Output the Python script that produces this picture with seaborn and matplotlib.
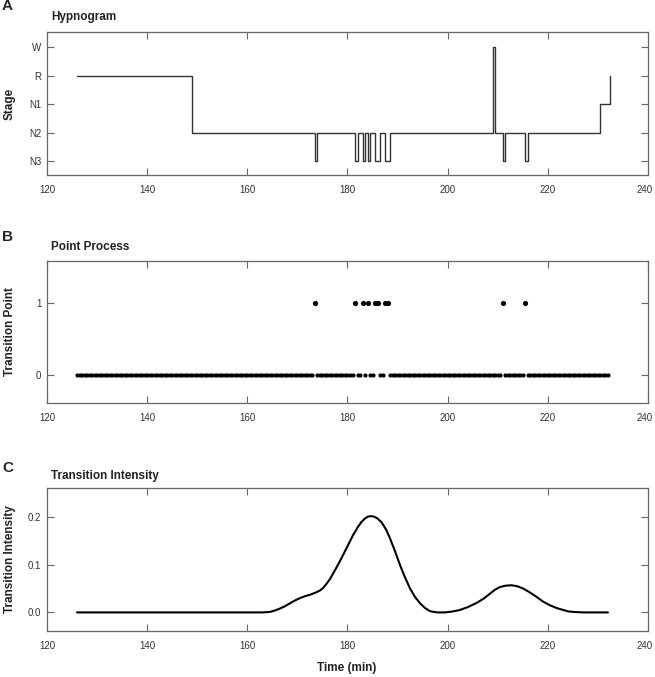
import numpy as np
import pandas as pd
import matplotlib
matplotlib.use("Agg")
import matplotlib.pyplot as plt
import matplotlib.transforms as mtransforms
import seaborn as sns

# datos
stage_labels = ["N3", "N2", "N1", "R", "W"]   # 0..4 de abajo hacia arriba

# hipnograma: instante de cambio (min) y estadio desde ese instante
hyp_time = [126.0, 149.0, 173.5, 174.0, 181.5, 182.0, 183.0, 183.5, 184.0, 184.5,
            185.5, 186.5, 187.5, 188.5, 209.0, 209.5, 211.0, 211.5, 215.5, 216.0,
            230.5, 232.5]
hyp_stage = ["R", "N2", "N3", "N2", "N3", "N2", "N3", "N2", "N3", "N2",
             "N3", "N2", "N3", "N2", "W", "N2", "N3", "N2", "N3", "N2",
             "N1", "R"]

# proceso puntual: epocas de 30 s y epocas con transicion
epoch_start = 126.0
epoch_end = 232.0
transition_times = [173.5, 181.5, 183.0, 184.0, 185.5, 186.0, 187.5, 188.0, 211.0, 215.5]

# intensidad de transicion (leida punto a punto)
int_time = [126, 160, 163, 164.5, 165.5, 166.5, 167.5, 168.5, 169.5, 170.5, 171.5,
            172.5, 173.5, 174.5, 175.2, 175.8, 176.5, 177.1, 178.1, 179.1, 180.1,
            181.1, 182.0, 182.8, 183.5, 184.1, 184.7, 185.3, 186.0, 186.8, 187.7,
            188.5, 189.5, 190.5, 191.5, 192.5, 193.5, 194.5, 195.5, 196.4, 197.2,
            198, 199.5, 201, 202.4, 204, 205.8, 207.2, 208.4, 209.5, 210.4, 211.5,
            212.7, 213.9, 215.1, 216.4, 217.7, 219.0, 220.4, 221.8, 223.1, 224.1,
            225.1, 227, 232]
int_value = [0, 0, 0, 0.001, 0.004, 0.008, 0.013, 0.019, 0.025, 0.030, 0.034,
             0.037, 0.041, 0.046, 0.052, 0.060, 0.070, 0.081, 0.100, 0.120, 0.141,
             0.162, 0.178, 0.190, 0.197, 0.201, 0.202, 0.201, 0.197, 0.189, 0.174,
             0.155, 0.128, 0.099, 0.073, 0.050, 0.032, 0.019, 0.009, 0.003, 0.001,
             0.0, 0.0, 0.002, 0.005, 0.011, 0.020, 0.029, 0.039, 0.048, 0.053, 0.056,
             0.057, 0.055, 0.050, 0.042, 0.033, 0.023, 0.015, 0.009, 0.005, 0.002,
             0.001, 0, 0]

sns.set_style("ticks")
fuente = ["Liberation Sans Narrow", "Liberation Sans", "DejaVu Sans"]
plt.rcParams["font.family"] = fuente
plt.rcParams["axes.edgecolor"] = "#666666"
plt.rcParams["axes.linewidth"] = 0.9

W, H = 655, 677
fig = plt.figure(figsize=(W / 100, H / 100), dpi=100)


def panel(top, bottom):
    ax = fig.add_axes([47 / W, 1 - bottom / H, 601 / W, (bottom - top) / H])
    ax.set_xlim(120, 240)
    ax.set_xticks([120, 140, 160, 180, 200, 220, 240])
    ax.tick_params(direction="in", top=True, right=True, length=5, width=0.8,
                   color="#666666", labelcolor="#333333", labelsize=7)
    ax.tick_params(axis="x", pad=7)
    ax.tick_params(axis="y", pad=4)
    for s in ax.spines.values():
        s.set_visible(True)
    return ax


def ajustar_240(ax):
    # la etiqueta 240 queda pegada al borde: se corre un poco a la izquierda
    lab = ax.get_xticklabels()[-1]
    lab.set_transform(lab.get_transform() +
                      mtransforms.ScaledTranslation(-3 / 100, 0, fig.dpi_scale_trans))


# A - hipnograma
df_hyp = pd.DataFrame({"t": hyp_time, "y": [stage_labels.index(s) for s in hyp_stage]})
ax1 = panel(32, 175)
sns.lineplot(data=df_hyp, x="t", y="y", ax=ax1, color="#333333", lw=1.0,
             drawstyle="steps-post", estimator=None, sort=False)
ax1.set_ylim(-0.48, 4.53)
ax1.set_yticks(range(5))
ax1.set_yticklabels(stage_labels)
ax1.set_xlabel("")
ax1.set_ylabel("")

# B - proceso puntual
epochs = np.arange(epoch_start, epoch_end + 0.25, 0.5)
marca = np.isin(epochs, transition_times)
df_pp = pd.DataFrame({"t": epochs, "y": marca.astype(int)})
ax2 = panel(261, 403)
sns.scatterplot(data=df_pp[df_pp.y == 0], x="t", y="y", ax=ax2, color="black",
                s=9, linewidth=0)
sns.scatterplot(data=df_pp[df_pp.y == 1], x="t", y="y", ax=ax2, color="black",
                s=14, linewidth=0)
ax2.set_ylim(-0.39, 1.59)
ax2.set_yticks([0, 1])
ax2.set_xlabel("")
ax2.set_ylabel("")

# C - intensidad
df_int = pd.DataFrame({"t": int_time, "v": int_value})
ax3 = panel(488, 631)
sns.lineplot(data=df_int, x="t", y="v", ax=ax3, color="black", lw=1.5,
             estimator=None, sort=False)
ax3.set_ylim(-0.039, 0.261)
ax3.set_yticks([0.0, 0.1, 0.2])
ax3.set_yticklabels(["0.0", "0.1", "0.2"])
ax3.set_xlabel("")
ax3.set_ylabel("")

for ax in (ax1, ax2, ax3):
    ajustar_240(ax)

# textos
for letra, y in [("A", 6), ("B", 237), ("C", 468)]:
    fig.text(2 / W, 1 - y / H, letra, fontsize=11, fontweight="bold",
             family=["Liberation Sans", "DejaVu Sans"], va="center", ha="left")
for titulo, y in [("Hypnogram", 17), ("Point Process", 247), ("Transition Intensity", 476)]:
    fig.text(51 / W, 1 - y / H, titulo, fontsize=8.5, fontweight="bold",
             va="center", ha="left", color="#222222")
for etiqueta, yc in [("Stage", 103.5), ("Transition Point", 332), ("Transition Intensity", 559.5)]:
    fig.text(10 / W, 1 - yc / H, etiqueta, fontsize=8.5, fontweight="bold",
             rotation=90, va="center", ha="center", color="#222222")
fig.text(347 / W, 1 - 668 / H, "Time (min)", fontsize=8.5, fontweight="bold",
         va="center", ha="center", color="#222222")

plt.savefig("out.png", dpi=100)
